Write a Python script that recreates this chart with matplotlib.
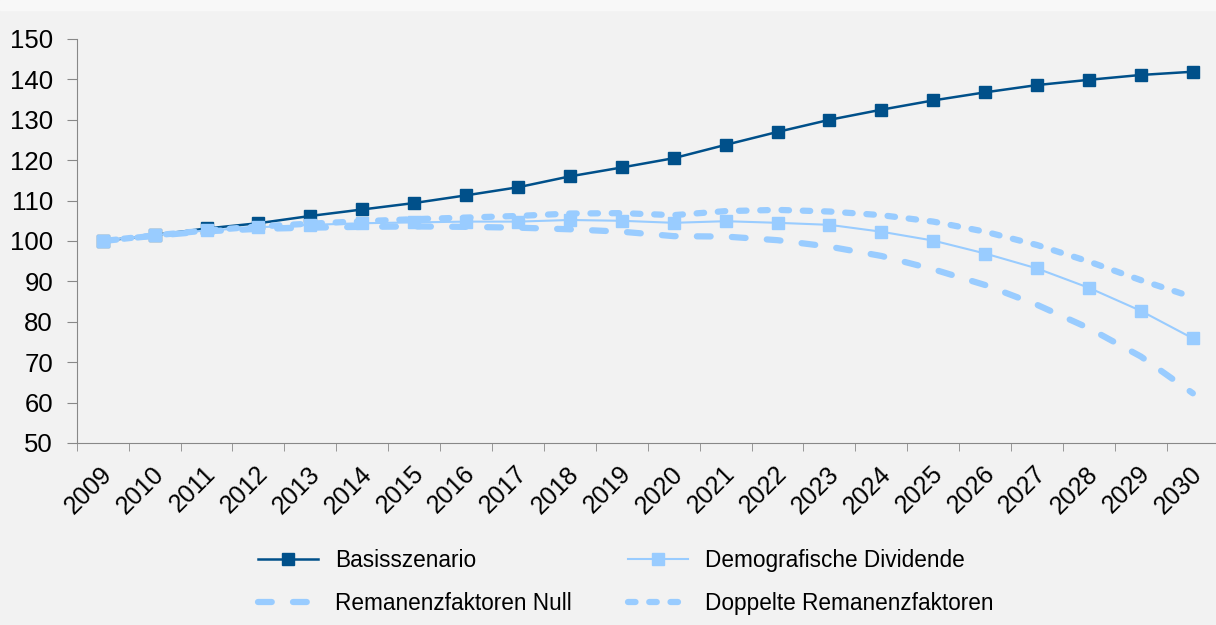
import matplotlib
matplotlib.use("Agg")
from matplotlib import pyplot as plt
from matplotlib.patches import Rectangle
from matplotlib.transforms import ScaledTranslation
import numpy as np

years = [str(y) for y in range(2009, 2031)]

basis = [100.0, 101.5, 103.1, 104.4, 106.2, 107.8, 109.4, 111.3, 113.3, 116.0, 118.2,
         120.5, 123.8, 127.0, 130.0, 132.5, 134.8, 136.8, 138.6, 139.9, 141.1, 141.9]
demo = [100.1, 101.5, 102.6, 103.4, 104.0, 104.4, 104.6, 104.8, 104.8, 105.2, 105.0,
        104.5, 104.9, 104.5, 104.0, 102.3, 100.1, 96.9, 93.2, 88.4, 82.7, 75.9]
null = [100.0, 101.3, 102.4, 103.0, 103.3, 103.5, 103.6, 103.5, 103.3, 102.9, 102.3,
        101.2, 101.1, 100.2, 98.6, 96.3, 93.0, 89.1, 84.2, 78.4, 71.4, 62.3]
doppelt = [100.0, 101.4, 102.6, 103.6, 104.3, 104.9, 105.4, 105.8, 106.2, 106.8, 106.9,
           106.4, 107.4, 107.7, 107.3, 106.4, 104.8, 102.3, 99.0, 94.9, 90.3, 86.1]

dark = "#00508a"
light = "#99ccff"
bg = "#f2f2f2"

plt.rcParams["font.family"] = ["Liberation Sans", "DejaVu Sans"]

fig = plt.figure(figsize=(12.16, 6.25), dpi=100, facecolor=bg)
fig.patches.append(Rectangle((0, 0.984), 1, 0.016, transform=fig.transFigure,
                             color="#f8f8f8", zorder=0))
ax = fig.add_axes([0.0631, 0.2912, 0.9392, 0.6464])
ax.set_facecolor(bg)

x = np.arange(len(years))
# light series sit on top of the base scenario
l_basis, = ax.plot(x, basis, color=dark, lw=1.8, marker="s", markersize=8,
                   label="Basisszenario")
l_demo, = ax.plot(x, demo, color=light, lw=1.5, marker="s", markersize=9,
                  label="Demografische Dividende")
l_null, = ax.plot(x, null, color=light, lw=4.5, dashes=(2.2, 3.4),
                  dash_capstyle="round", label="Remanenzfaktoren Null")
l_dop, = ax.plot(x, doppelt, color=light, lw=4.5, dashes=(1.2, 2.2),
                 dash_capstyle="round", label="Doppelte Remanenzfaktoren")

ax.set_xlim(-0.5, len(years) - 0.5)
ax.set_ylim(50, 150)
ax.set_yticks(range(50, 151, 10))
ax.set_xticks(x)
ax.set_xticklabels(years, rotation=45, ha="right", rotation_mode="anchor")
ax.set_xticks(np.arange(-0.5, len(years)), minor=True)
ax.tick_params(axis="x", which="major", length=0, labelsize=18, pad=7)
ax.tick_params(axis="x", which="minor", length=6, color="#888888", direction="out")
ax.tick_params(axis="y", length=7, color="#888888", labelsize=18.5, pad=10)

shift = ScaledTranslation(-0.03, -0.09, fig.dpi_scale_trans)
for lab in ax.get_xticklabels():
    lab.set_transform(lab.get_transform() + shift)

for s in ["top", "right"]:
    ax.spines[s].set_visible(False)
for s in ["left", "bottom"]:
    ax.spines[s].set_color("#888888")

leg = fig.legend([l_basis, l_null, l_demo, l_dop],
                 ["Basisszenario", "Remanenzfaktoren Null",
                  "Demografische Dividende", "Doppelte Remanenzfaktoren"],
                 ncol=2, loc="upper left", bbox_to_anchor=(0.212, 0.121),
                 frameon=False, fontsize=16.3, handlelength=2.65,
                 columnspacing=2.5, labelspacing=0.88, handletextpad=0.75,
                 borderaxespad=0, borderpad=0)

fig.savefig("out.png", dpi=100, facecolor=bg)
